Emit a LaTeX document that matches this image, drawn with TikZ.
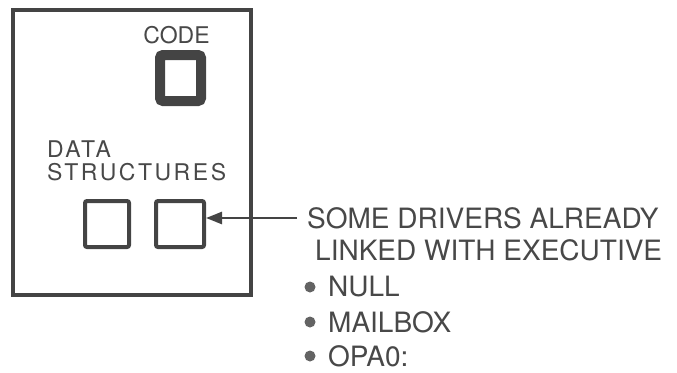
\documentclass[tikz,border=0pt]{standalone}
\usepackage{fontspec}
\setmainfont{TeX Gyre Heros}
\usetikzlibrary{arrows.meta, positioning}
\definecolor{inkgray}{RGB}{68,68,68}
\definecolor{textgray}{RGB}{72,72,72}

\begin{document}
\begin{tikzpicture}[x=1pt, y=-1pt,
        frame/.style={rectangle, draw=inkgray, line width=4pt, minimum width=238pt, minimum height=285pt, inner sep=0pt},
        slot/.style={rectangle, draw=inkgray, line width=4pt, rounded corners=2pt, minimum height=46pt, inner sep=0pt},
        codeslot/.style={rectangle, draw=inkgray, line width=10pt, rounded corners=3pt, minimum width=41pt, minimum height=46pt, inner sep=0pt},
        lbl/.style={font=\fontsize{23}{28}\selectfont, text=textgray, inner sep=0pt},
        widelbl/.style={lbl, font=\fontsize{23}{28}\selectfont\addfontfeature{LetterSpace=11}, anchor=west},
        note/.style={font=\fontsize{28}{32}\selectfont, text=textgray, inner sep=0pt, anchor=west},
        dot/.style={circle, fill=textgray!85, inner sep=0pt, minimum size=11pt},
        arrow/.style={-{Triangle[length=16pt, width=12pt]}, line width=2.5pt, inkgray}
    ]
        \useasboundingbox (0,0) rectangle (677,372);

        % Bild der Task
        \node[frame] (image) at (132,152.5) {};
        \node[lbl] (codelabel) at (176.5,35) {CODE};
        \node[codeslot] (code) at (180.5,78) {};
        \node[widelbl] (datalabel) at (47,149) {DATA};
        \node[widelbl] (structlabel) at (47,172) {STRUCTURES};
        \node[slot, minimum width=44pt] (slotA) at (107,224) {};
        \node[slot, minimum width=48pt] (slotB) at (180,224) {};

        % Erlaeuterung rechts
        \node[note] (drivers) at (307,218) {SOME DRIVERS ALREADY};
        \node[note] (linked) at (315,250) {LINKED WITH EXECUTIVE};
        \node[dot] (dotA) at (310,287) {};
        \node[note] (null) at (328,287) {NULL};
        \node[dot] (dotB) at (310,322) {};
        \node[note] (mailbox) at (328,322) {MAILBOX};
        \node[dot] (dotC) at (310,356) {};
        \node[note] (opa) at (328,356) {OPA0:};

        \draw[arrow, shorten <=10pt] (drivers.west) -- (slotB.east |- drivers.west);
    \end{tikzpicture}
\end{document}
